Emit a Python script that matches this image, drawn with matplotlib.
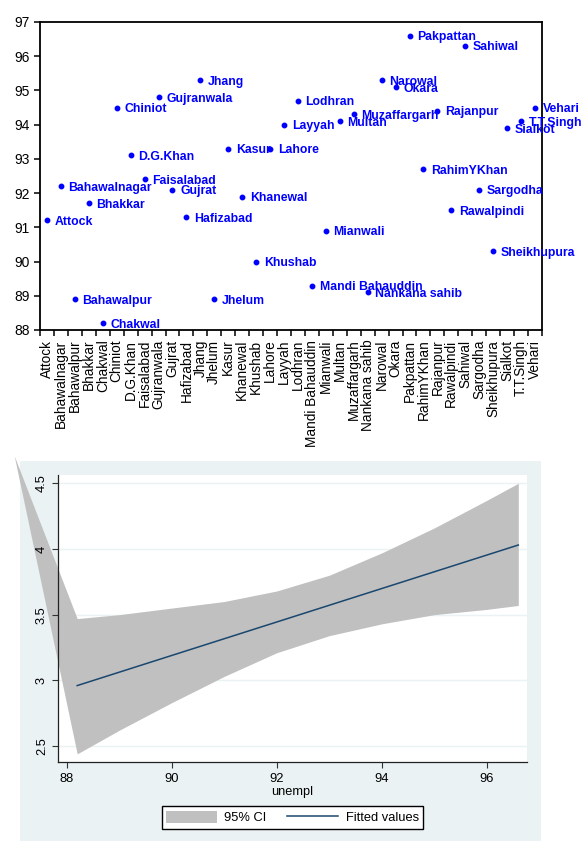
import matplotlib
matplotlib.use("Agg")
import matplotlib.pyplot as plt
import numpy as np
from matplotlib.patches import Rectangle, Patch
from matplotlib.lines import Line2D

plt.rcParams['font.family'] = ['Liberation Sans', 'DejaVu Sans']

# Unemployment (%) by district
districts = [
    "Attock", "Bahawalnagar", "Bahawalpur", "Bhakkar", "Chakwal", "Chiniot",
    "D.G.Khan", "Faisalabad", "Gujranwala", "Gujrat", "Hafizabad", "Jhang",
    "Jhelum", "Kasur", "Khanewal", "Khushab", "Lahore", "Layyah", "Lodhran",
    "Mandi Bahauddin", "Mianwali", "Multan", "Muzaffargarh", "Nankana sahib",
    "Narowal", "Okara", "Pakpattan", "RahimYKhan", "Rajanpur", "Rawalpindi",
    "Sahiwal", "Sargodha", "Sheikhupura", "Sialkot", "T.T.Singh", "Vehari",
]
unempl = [
    91.2, 92.2, 88.9, 91.7, 88.2, 94.5,
    93.1, 92.4, 94.8, 92.1, 91.3, 95.3,
    88.9, 93.3, 91.9, 90.0, 93.3, 94.0, 94.7,
    89.3, 90.9, 94.1, 94.3, 89.1,
    95.3, 95.1, 96.6, 92.7, 94.4, 91.5,
    96.3, 92.1, 90.3, 93.9, 94.1, 94.5,
]
yticks_top = list(range(88, 98))

# Linear fit with 95% confidence band
fit_x = [88.2, 96.6]
fit_y = [2.96, 4.03]
band_x = [87.0, 88.2, 89.0, 90.0, 91.0, 92.0, 93.0, 94.0, 95.0, 96.0, 96.6]
band_lo = [4.71, 2.44, 2.62, 2.83, 3.03, 3.21, 3.34, 3.43, 3.50, 3.54, 3.57]
band_hi = [4.71, 3.47, 3.50, 3.55, 3.60, 3.68, 3.80, 3.97, 4.16, 4.37, 4.50]
xticks_bot = [88, 90, 92, 94, 96]
yticks_bot = [2.5, 3, 3.5, 4, 4.5]
ytick_labels_bot = ["2.5", "3", "3.5", "4", "4.5"]

W, H = 584, 841
fig = plt.figure(figsize=(W / 100, H / 100), dpi=100)


def frac(left, top, right, bottom):
    return [left / W, 1 - bottom / H, (right - left) / W, (bottom - top) / H]


# ---- top panel: labelled scatter by district ----
ax1 = fig.add_axes(frac(40, 22, 542, 330))
xpos = np.arange(len(districts))
ax1.plot(xpos, unempl, 'o', ms=3.2, color='blue', ls='none', zorder=3)
for xi, yi, name in zip(xpos, unempl, districts):
    ax1.annotate(name, (xi, yi), xytext=(5.5, 0), textcoords='offset points',
                 va='center_baseline', ha='left', color='blue',
                 fontweight='bold', fontsize=8.8, annotation_clip=False)
ax1.set_xlim(-0.5, len(districts) - 0.5)
ax1.set_ylim(88, 97)
ax1.set_yticks(yticks_top)
ax1.set_xticks(xpos)
ax1.set_xticklabels(districts, rotation=90, fontsize=9.8)
ax1.set_xticks(np.arange(-0.5, len(districts)), minor=True)
ax1.tick_params(axis='x', which='major', length=0, pad=7)
ax1.tick_params(axis='x', which='minor', length=4.3, width=1.1, direction='out')
ax1.tick_params(axis='y', length=4.3, width=1.1, pad=3, labelsize=10)
for s in ax1.spines.values():
    s.set_linewidth(1.3)

# ---- bottom panel: fitted values with confidence band ----
bg = Rectangle((20 / W, 0), (540.7 - 20) / W, (841 - 461) / H,
               transform=fig.transFigure, facecolor='#eaf2f3',
               edgecolor='none', zorder=-5)
fig.add_artist(bg)

ax2 = fig.add_axes(frac(58.3, 475, 526.7, 762.3))
ax2.set_facecolor('white')
for yv in yticks_bot:
    ax2.axhline(yv, color='#eaf2f3', lw=1, zorder=0.5)
ax2.fill_between(band_x, band_lo, band_hi, color='#c0c0c0', lw=0,
                 clip_on=False, zorder=1)
ax2.plot(fit_x, fit_y, color='#1a476f', lw=1.1, zorder=3)
ax2.set_xlim(87.84, 96.76)
ax2.set_ylim(2.376, 4.563)
ax2.set_xticks(xticks_bot)
ax2.set_yticks(yticks_bot)
ax2.set_yticklabels(ytick_labels_bot, rotation=90, va='center')
ax2.spines['top'].set_visible(False)
ax2.spines['right'].set_visible(False)
for s in ('left', 'bottom'):
    ax2.spines[s].set_linewidth(0.9)
    ax2.spines[s].set_color('#222222')
ax2.tick_params(axis='both', length=4, width=0.8, color='#333333', labelsize=9.3)
ax2.tick_params(axis='x', pad=4)
ax2.tick_params(axis='y', pad=3.5)
ax2.set_xlabel('unempl', fontsize=9.2, labelpad=0.5)

handles = [Patch(facecolor='#c0c0c0', edgecolor='none'),
           Line2D([], [], color='#1a476f', lw=1.1)]
leg = fig.legend(handles, ['95% CI', 'Fitted values'], ncol=2, loc='center',
                 bbox_to_anchor=(292.5 / W, 1 - 817.5 / H), frameon=True,
                 fancybox=False, edgecolor='black', framealpha=1,
                 fontsize=9.3, handlelength=3.9, handleheight=1.15,
                 columnspacing=1.6, handletextpad=0.6, borderpad=0.35,
                 borderaxespad=0)
leg.get_frame().set_linewidth(1.0)

fig.savefig('out.png', dpi=100)
